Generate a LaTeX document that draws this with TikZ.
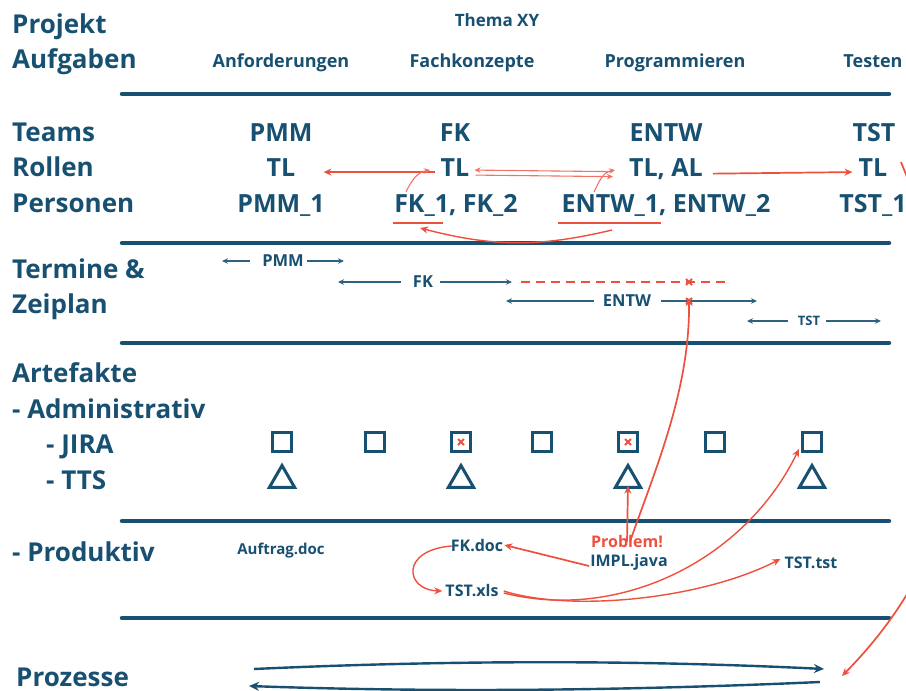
\documentclass[tikz,border=0pt]{standalone}
\usepackage{fontspec}
\setmainfont{Open Sans}
\usetikzlibrary{arrows.meta,shapes.geometric,calc}
\definecolor{ink}{RGB}{24,80,114}
\definecolor{accent}{RGB}{238,80,62}
\tikzset{
  x=1pt, y=-1pt,
  side/.style={anchor=base west, inner sep=0, text=ink, font=\fontsize{26}{30}\selectfont\bfseries},
  task/.style={anchor=base, inner sep=0, text=ink, font=\fontsize{18}{22}\selectfont\bfseries},
  team/.style={anchor=base, inner sep=0, text=ink, font=\fontsize{25}{30}\selectfont\bfseries},
  sched/.style={inner sep=0, text=ink, font=\fontsize{16.5}{20}\selectfont\bfseries},
  small sched/.style={inner sep=0, text=ink, font=\fontsize{13}{16}\selectfont\bfseries},
  file/.style={inner sep=1, text=ink, font=\fontsize{16}{20}\selectfont\bfseries},
  rule/.style={draw=ink, line width=4.5, line cap=round},
  tline/.style={draw=ink!90, line width=1.2, -{Stealth[length=6,width=5.5]}},
  redarrow/.style={draw=accent, line width=1.7, -{Stealth[length=8,width=7]}},
  thinred/.style={draw=accent!80, line width=1.1, -{Stealth[length=6,width=5.5]}},
  underl/.style={draw=accent, line width=2},
  jira/.style={draw=ink, line width=3, minimum size=19, inner sep=0, rectangle},
  tts/.style={draw=ink, line width=3, regular polygon, regular polygon sides=3, minimum size=29, inner sep=0},
  flow/.style={draw=ink, line width=2.4, -{Stealth[length=10,width=9]}},
  crossmark/.style={draw=accent, line width=1.8},
}
\begin{document}
\begin{tikzpicture}
\useasboundingbox (0,0) rectangle (906,691);
\clip (0,0) rectangle (906,691);
\fill[white] (0,0) rectangle (906,691);

% row headings
\node[side] (hProjekt) at (12,33) {Projekt};
\node[side] (hAufgaben) at (12,68) {Aufgaben};
\node[side] (hTeams) at (12,141) {Teams};
\node[side] (hRollen) at (12,176) {Rollen};
\node[side] (hPersonen) at (12,212) {Personen};
\node[side] (hTermine) at (12,278) {Termine \&};
\node[side] (hZeiplan) at (12,313) {Zeiplan};
\node[side] (hArtefakte) at (12,382) {Artefakte};
\node[side] (hAdmin) at (12,418) {- Administrativ};
\node[side] (hJira) at (46,453) {- JIRA};
\node[side] (hTts) at (46,489) {- TTS};
\node[side] (hProd) at (12,561) {- Produktiv};
\node[side] (hProzesse) at (16,686) {Prozesse};

% tasks
\node[task, font=\fontsize{17}{20}\selectfont\bfseries] (thema) at (497,26) {Thema XY};
\node[task] (tAnf) at (281,67) {Anforderungen};
\node[task] (tFach) at (472,67) {Fachkonzepte};
\node[task] (tProg) at (675,67) {Programmieren};
\node[task] (tTest) at (873,67) {Testen};

% section rules
\draw[rule] (122,94) -- (889,94);
\draw[rule] (122,243) -- (889,243);
\draw[rule] (122,343) -- (889,343);
\draw[rule] (122,521) -- (889,521);
\draw[rule] (122,618) -- (889,618);

% teams, roles, persons
\node[team] (teamPMM) at (281,141) {PMM};
\node[team] (teamFK) at (455,141) {FK};
\node[team] (teamENTW) at (666,141) {ENTW};
\node[team] (teamTST) at (874,141) {TST};
\node[team] (tlPMM) at (281,176) {TL};
\node[team] (tlFK) at (455,176) {TL};
\node[team] (tlENTW) at (666,176) {TL, AL};
\node[team] (tlTST) at (873,176) {TL};
\node[team] (pPMM) at (281,212) {PMM\_1};
\node[team] (pFK) at (456,212) {FK\_1, FK\_2};
\node[team] (pENTW) at (666,212) {ENTW\_1, ENTW\_2};
\node[team] (pTST) at (873,212) {TST\_1};

\coordinate (fk1top) at (406,192);
\coordinate (fkTLin) at (430,170);
\coordinate (entw1top) at (594,192);
\coordinate (entwTLin) at (615,170);
\coordinate (entw1low) at (612,230);
\coordinate (fk1low) at (420,228);
\coordinate (tstTLout) at (901,162);
\coordinate (prozIn) at (842,676);

\draw[underl] (393,223) -- (443,223);
\draw[underl] (558,223) -- (661,223);

\draw[redarrow] ([xshift=-6,yshift=-5]tlFK.west) -- ([xshift=28,yshift=-5]tlPMM.east);
\draw[thinred] ([xshift=6,yshift=-8]tlFK.east) -- ([xshift=-16,yshift=-8]tlENTW.west);
\draw[thinred] ([xshift=-16,yshift=-3]tlENTW.west) -- ([xshift=5,yshift=-3]tlFK.east);
\draw[redarrow] ([xshift=10,yshift=-5]tlENTW.east) -- ([xshift=-6,yshift=-5]tlTST.west);
\draw[thinred] (fk1top) to[out=65, in=190] (fkTLin);
\draw[thinred] (entw1top) to[out=65, in=190] (entwTLin);
\draw[redarrow, line width=1.4] (entw1low) to[bend left=14] (fk1low);
\draw[redarrow] (tstTLout) .. controls (940,260) and (1035,480) .. (prozIn);

% schedule
\node[sched] (sPMM) at (283,261) {PMM};
\node[sched] (sFK) at (423,282) {FK};
\node[sched] (sENTW) at (627,301) {ENTW};
\node[small sched] (sTST) at (809,321) {TST};
\draw[tline] (250,261) -- (222,261);
\draw[tline] (307,261) -- (344,261);
\draw[tline] (401,282) -- (338,282);
\draw[tline] (440,282) -- (512,282);
\draw[tline] (594,301) -- (506,301);
\draw[tline] (661,301) -- (757,301);
\draw[tline] (788,321) -- (747,321);
\draw[tline] (826,321) -- (881,321);
\draw[accent, line width=2, dash pattern=on 9 off 6] (521,282) -- (729,282);
\coordinate (xFK) at (689,282);
\coordinate (xENTW) at (689,301);
\draw[crossmark] ($(xFK)+(-3,-3)$) -- ($(xFK)+(3,3)$) ($(xFK)+(-3,3)$) -- ($(xFK)+(3,-3)$);
\draw[crossmark] ($(xENTW)+(-3,-3)$) -- ($(xENTW)+(3,3)$) ($(xENTW)+(-3,3)$) -- ($(xENTW)+(3,-3)$);

% JIRA tickets and TTS entries
\foreach \n/\x in {1/282, 2/375, 3/461, 4/542, 5/628, 6/715, 7/812}
  \node[jira] (j\n) at (\x,442) {};
\foreach \n/\x in {1/282, 3/461, 5/628, 7/812}
  \node[tts] (t\n) at (\x,480) {};
\draw[crossmark] ($(j3)+(-3,-3)$) -- ($(j3)+(3,3)$) ($(j3)+(-3,3)$) -- ($(j3)+(3,-3)$);
\draw[crossmark] ($(j5)+(-3,-3)$) -- ($(j5)+(3,3)$) ($(j5)+(-3,3)$) -- ($(j5)+(3,-3)$);

% productive artefacts
\node[file, font=\fontsize{15}{18}\selectfont\bfseries] (auftrag) at (281,551) {Auftrag.doc};
\node[file] (fkdoc) at (477,546) {FK.doc};
\node[file, text=accent] (problem) at (627,542) {Problem!};
\node[file] (impl) at (629,562) {IMPL.java};
\node[file] (xls) at (472,591) {TST.xls};
\node[file] (tsttst) at (811,563) {TST.tst};

\draw[redarrow] ([yshift=-7]problem.north) -- ([yshift=3]t5.south);
\draw[redarrow] ([xshift=3,yshift=-7]problem.north) .. controls (655,470) and (690,390) .. ([yshift=3]xENTW);
\draw[redarrow] ([yshift=-4]impl.west) -- ([yshift=1]fkdoc.east);
\draw[redarrow, line width=1.4] ([xshift=2]fkdoc.west) .. controls (400,550) and (405,590) .. ([xshift=-2]xls.west);
\draw[redarrow, line width=1.4] ([xshift=4]xls.east) .. controls (570,612) and (700,600) .. ([xshift=-3,yshift=4]tsttst.west);
\draw[redarrow, line width=1.4] ([xshift=4,yshift=-2]xls.east) .. controls (620,622) and (745,560) .. ([xshift=-13,yshift=4]j7.south);

% process loop
\coordinate (loopA) at (254,669);
\coordinate (loopB) at (824,669);
\coordinate (loopC) at (820,682);
\coordinate (loopD) at (249,686);
\draw[flow] (loopA) .. controls (450,660) and (640,660) .. (loopB);
\draw[flow] (loopC) .. controls (640,690) and (450,693) .. (loopD);
\end{tikzpicture}
\end{document}
